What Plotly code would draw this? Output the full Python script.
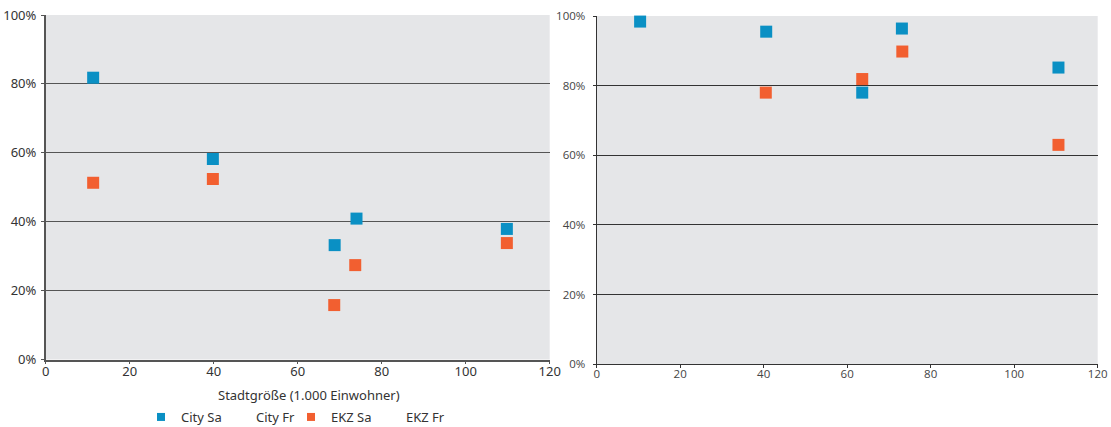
import plotly.graph_objects as go

# Left panel (Samstag)
left_x_city = [11.3, 39.8, 68.8, 74.0, 109.8]
left_city_sa = [0.818, 0.582, 0.332, 0.409, 0.379]
left_x_ekz = [11.3, 39.8, 68.7, 73.7, 109.8]
left_ekz_sa = [0.513, 0.524, 0.158, 0.274, 0.338]

# Right panel (Freitag)
right_x_city = [10.4, 40.6, 63.6, 73.1, 110.6]
right_city_fr = [0.984, 0.955, 0.780, 0.964, 0.852]
right_x_ekz = [10.4, 40.5, 63.6, 73.2, 110.6]
right_ekz_fr = [1.007, 0.780, 0.819, 0.898, 0.630]

x_ticks = [0, 20, 40, 60, 80, 100, 120]
y_ticks = [0, 0.2, 0.4, 0.6, 0.8, 1.0]
y_ticklabels = ["0%", "20%", "40%", "60%", "80%", "100%"]
legend_names = ["City Sa", "City Fr", "EKZ Sa", "EKZ Fr"]

BLUE = "#0a90c4"
ORANGE = "#f25f30"
BG = "#e5e6e8"

fig = go.Figure()

# Left panel data
fig.add_trace(go.Scatter(x=left_x_city, y=left_city_sa, mode="markers", xaxis="x", yaxis="y",
                         marker=dict(symbol="square", size=12, color=BLUE), showlegend=False, cliponaxis=False))
fig.add_trace(go.Scatter(x=left_x_ekz, y=left_ekz_sa, mode="markers", xaxis="x", yaxis="y",
                         marker=dict(symbol="square", size=12, color=ORANGE), showlegend=False, cliponaxis=False))
# Right panel data (orange below blue)
fig.add_trace(go.Scatter(x=right_x_ekz, y=right_ekz_fr, mode="markers", xaxis="x2", yaxis="y2",
                         marker=dict(symbol="square", size=12, color=ORANGE), showlegend=False, cliponaxis=False))
fig.add_trace(go.Scatter(x=right_x_city, y=right_city_fr, mode="markers", xaxis="x2", yaxis="y2",
                         marker=dict(symbol="square", size=12, color=BLUE), showlegend=False, cliponaxis=False))

# Legend entries (plus one blank spacer so the last label is not clipped)
legend_colors = [BLUE, "rgba(0,0,0,0)", ORANGE, "rgba(0,0,0,0)", "rgba(0,0,0,0)"]
for name, col in zip(legend_names + [" "], legend_colors):
    fig.add_trace(go.Scatter(x=[None], y=[None], mode="markers", name=name, xaxis="x", yaxis="y",
                             marker=dict(symbol="square", size=8, color=col)))

W, H = 1111, 427

def px(v):
    return v / W

def py(v):
    return 1 - v / H

left_font = dict(family="Noto Sans", size=13, color="#333333")
right_font = dict(family="Open Sans", size=11.5, color="#444444")

fig.update_layout(
    width=W, height=H,
    margin=dict(l=0, r=0, t=0, b=0, autoexpand=False),
    paper_bgcolor="white",
    plot_bgcolor=BG,
    showlegend=True,
    legend=dict(orientation="h", x=px(141), y=py(417), xanchor="left", yanchor="middle",
                font=dict(family="Noto Sans", size=13, color="#333333"),
                bgcolor="rgba(0,0,0,0)", itemwidth=30, entrywidth=30, entrywidthmode="pixels"),
    xaxis=dict(domain=[px(45.7), px(549.7)], range=[0, 120], tickvals=x_ticks,
               showline=True, linecolor="#555555", linewidth=1.5, ticks="outside", ticklen=3,
               tickcolor="#555555", showgrid=False, zeroline=False, tickfont=left_font,
               anchor="y", automargin=False, ticklabeloverflow="allow", ticklabelstandoff=-4),
    yaxis=dict(domain=[py(359.5), py(15)], range=[0, 1], tickvals=y_ticks, ticktext=y_ticklabels,
               showline=True, linecolor="#555555", linewidth=1.5, ticks="outside", ticklen=3,
               tickcolor="#555555", showgrid=True, gridcolor="#555555", gridwidth=1.4,
               zeroline=False, tickfont=left_font, anchor="x", automargin=False,
               ticklabeloverflow="allow", ticklabelstandoff=2),
    xaxis2=dict(domain=[px(596.7), px(1097.7)], range=[0, 120], tickvals=x_ticks,
                showline=True, linecolor="#333333", linewidth=1.2, ticks="outside", ticklen=3,
                tickcolor="#333333", showgrid=False, zeroline=False, tickfont=right_font,
                anchor="y2", automargin=False, ticklabeloverflow="allow", ticklabelstandoff=-4),
    yaxis2=dict(domain=[py(364.3), py(16)], range=[0, 1], tickvals=y_ticks, ticktext=y_ticklabels,
                showline=True, linecolor="#333333", linewidth=1.2, ticks="outside", ticklen=3,
                tickcolor="#333333", showgrid=True, gridcolor="#333333", gridwidth=1,
                zeroline=False, tickfont=right_font, anchor="x2", automargin=False,
                ticklabeloverflow="allow", ticklabelstandoff=5),
    annotations=[dict(text="Stadtgröße (1.000 Einwohner)", x=px(309), y=py(395), xref="paper", yref="paper",
                      xanchor="center", yanchor="middle", showarrow=False,
                      font=dict(family="Noto Sans", size=13, color="#333333"))],
)

fig.write_html("out.html", config={"displayModeBar": False},
               post_script="document.body.style.margin='0';")
